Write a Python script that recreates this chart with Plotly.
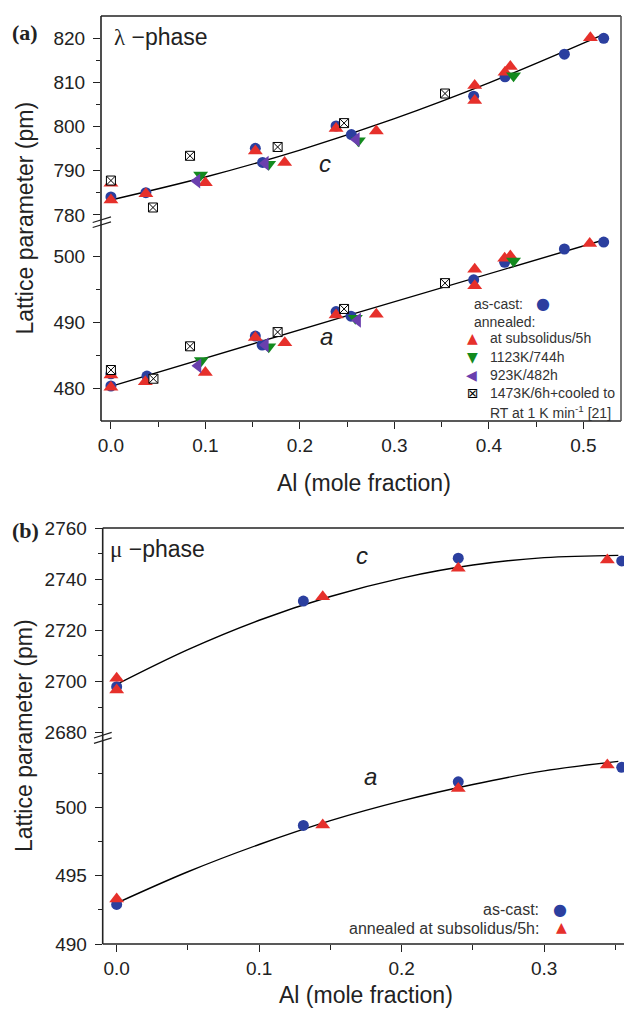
import plotly.graph_objects as go

W, H = 624, 1009
def px(x):
    return x / W
def py(y):
    return 1 - y / H

# ---------------- data: (a) lambda-phase ----------------
# as-cast (circles)
lam_cast_c_x = [0.0, 0.037, 0.1528, 0.1605, 0.2382, 0.2544, 0.3838, 0.417, 0.4798, 0.5214]
lam_cast_c = [784.1, 785.05, 795.1, 791.9, 800.15, 798.2, 806.9, 811.3, 816.4, 820.0]
lam_cast_a_x = [0.0, 0.0, 0.0381, 0.1528, 0.160, 0.2382, 0.254, 0.3838, 0.4166, 0.4798, 0.5214]
lam_cast_a = [482.2, 480.35, 481.86, 487.9, 486.55, 491.6, 490.9, 496.4, 499.05, 501.06, 502.1]
# annealed at subsolidus/5h (red up-triangles)
lam_sub_c_x = [0.0, 0.0, 0.037, 0.0999, 0.1528, 0.1838, 0.2382, 0.2808, 0.3849, 0.3849, 0.417, 0.4226, 0.5073]
lam_sub_c = [783.4, 787.2, 784.8, 787.3, 794.5, 791.9, 799.6, 799.0, 809.3, 805.9, 812.3, 813.6, 820.1]
lam_sub_a_x = [0.0, 0.0, 0.0364, 0.0999, 0.1528, 0.184, 0.2382, 0.2808, 0.3849, 0.3849, 0.4166, 0.4226, 0.5066]
lam_sub_a = [480.15, 482.0, 481.0, 482.4, 487.7, 486.9, 491.1, 491.2, 498.0, 495.5, 499.65, 500.0, 501.9]
# 1123K/744h (green down-triangles)
lam_1123_c_x = [0.0949, 0.1669, 0.2618, 0.426]
lam_1123_c = [789.05, 791.5, 796.8, 811.5]
lam_1123_a_x = [0.0957, 0.167, 0.2586, 0.426]
lam_1123_a = [484.2, 486.3, 490.6, 499.25]
# 923K/482h (purple left-triangles)
lam_923_c_x = [0.091, 0.1634, 0.2597]
lam_923_c = [787.7, 791.7, 797.1]
lam_923_a_x = [0.0921, 0.1634, 0.261]
lam_923_a = [483.4, 486.55, 490.3]
# 1473K/6h + cooled (crossed squares) [21]
lam_lit_c_x = [0.0, 0.0445, 0.0837, 0.1764, 0.2467, 0.3535]
lam_lit_c = [787.8, 781.7, 793.4, 795.4, 800.8, 807.5]
lam_lit_a_x = [0.0, 0.045, 0.0837, 0.1764, 0.2467, 0.3535]
lam_lit_a = [482.77, 481.45, 486.35, 488.5, 492.0, 495.9]
# fitted curves
lam_c_fit_x = [0.0, 0.1, 0.2, 0.3, 0.4, 0.5, 0.52]
lam_c_fit = [783.4, 788.6, 794.7, 801.8, 809.9, 818.9, 820.8]
lam_a_fit_x = [0.0, 0.26, 0.523]
lam_a_fit = [480.3, 491.4, 502.5]

# ---------------- data: (b) mu-phase ----------------
mu_cast_x = [0.0, 0.131, 0.2397, 0.3544]
mu_cast_c = [2698.0, 2731.5, 2748.3, 2747.2]
mu_cast_a = [492.9, 498.7, 501.9, 502.96]
mu_sub_c_x = [0.0, 0.0, 0.1446, 0.2397, 0.3443]
mu_sub_c = [2701.3, 2696.7, 2733.2, 2744.3, 2747.6]
mu_sub_a_x = [0.0, 0.1446, 0.2397, 0.3443]
mu_sub_a = [493.3, 498.73, 501.4, 503.13]
mu_fit_x = [0.0, 0.05, 0.1, 0.15, 0.2, 0.25, 0.3, 0.352]
mu_c_fit = [2698.9, 2712.5, 2724.0, 2733.3, 2740.5, 2745.6, 2748.5, 2749.4]
mu_a_fit = [493.0, 495.3, 497.3, 499.05, 500.5, 501.7, 502.7, 503.4]

x_ticks_a = [0.0, 0.1, 0.2, 0.3, 0.4, 0.5]
x_ticks_b = [0.0, 0.1, 0.2, 0.3]

# ---------------- style ----------------
BLUE = '#2b3f9f'
RED = '#e6302b'
GREEN = '#138a1e'
PURPLE = '#6a3fae'
INK = '#222222'
FONT = 'Liberation Sans, Arial, sans-serif'

fig = go.Figure()

def add_pts(x, y, xa, ya, symbol, color, size, line=None):
    m = dict(symbol=symbol, color=color, size=size)
    if line:
        m['line'] = line
    fig.add_trace(go.Scatter(x=x, y=y, xaxis=xa, yaxis=ya, mode='markers',
                             marker=m, showlegend=False, hoverinfo='x+y'))

def add_fit(x, y, xa, ya):
    fig.add_trace(go.Scatter(x=x, y=y, xaxis=xa, yaxis=ya, mode='lines',
                             line=dict(color='black', width=1.4, shape='spline'),
                             showlegend=False, hoverinfo='skip'))

# panel (a): c on x2/y2, a on x/y
add_fit(lam_c_fit_x, lam_c_fit, 'x2', 'y2')
add_fit(lam_a_fit_x, lam_a_fit, 'x', 'y')
for (xx, yy, xa, ya) in [(lam_cast_c_x, lam_cast_c, 'x2', 'y2'), (lam_cast_a_x, lam_cast_a, 'x', 'y')]:
    add_pts(xx, yy, xa, ya, 'circle', BLUE, 11)
for (xx, yy, xa, ya) in [(lam_sub_c_x, lam_sub_c, 'x2', 'y2'), (lam_sub_a_x, lam_sub_a, 'x', 'y')]:
    add_pts(xx, yy, xa, ya, 'triangle-up', RED, 13)
for (xx, yy, xa, ya) in [(lam_1123_c_x, lam_1123_c, 'x2', 'y2'), (lam_1123_a_x, lam_1123_a, 'x', 'y')]:
    add_pts(xx, yy, xa, ya, 'triangle-down', GREEN, 13)
for (xx, yy, xa, ya) in [(lam_923_c_x, lam_923_c, 'x2', 'y2'), (lam_923_a_x, lam_923_a, 'x', 'y')]:
    add_pts(xx, yy, xa, ya, 'triangle-left', PURPLE, 13)
for (xx, yy, xa, ya) in [(lam_lit_c_x, lam_lit_c, 'x2', 'y2'), (lam_lit_a_x, lam_lit_a, 'x', 'y')]:
    add_pts(xx, yy, xa, ya, 'square-x', 'white', 9, line=dict(color='black', width=1))

# panel (b): c on x4/y4, a on x3/y3
add_fit(mu_fit_x, mu_c_fit, 'x4', 'y4')
add_fit(mu_fit_x, mu_a_fit, 'x3', 'y3')
add_pts(mu_cast_x, mu_cast_c, 'x4', 'y4', 'circle', BLUE, 11)
add_pts(mu_cast_x, mu_cast_a, 'x3', 'y3', 'circle', BLUE, 11)
add_pts(mu_sub_c_x, mu_sub_c, 'x4', 'y4', 'triangle-up', RED, 13)
add_pts(mu_sub_a_x, mu_sub_a, 'x3', 'y3', 'triangle-up', RED, 13)

# ---------------- axes ----------------
tickfont = dict(family=FONT, size=19, color=INK)

def yax(dom, rng, tickvals, minor_vals, anchor):
    return dict(domain=dom, range=rng, anchor=anchor, tickmode='array', tickvals=tickvals,
                ticks='outside', ticklen=7, tickwidth=1.3, tickcolor=INK, tickfont=tickfont,
                showgrid=False, zeroline=False, showline=False, ticklabelstandoff=4,
                automargin=False,
                minor=dict(tickmode='array', tickvals=minor_vals, ticks='outside', ticklen=4,
                           tickwidth=1.3, tickcolor=INK, showgrid=False))

def xax(dom, rng, tickvals, minor_vals, anchor):
    return dict(domain=dom, range=rng, anchor=anchor, tickmode='array', tickvals=tickvals,
                ticktext=['%.1f' % v for v in tickvals], automargin=False,
                ticks='outside', ticklen=7, tickwidth=1.3, tickcolor=INK, tickfont=tickfont,
                showgrid=False, zeroline=False, showline=False,
                minor=dict(tickmode='array', tickvals=minor_vals, ticks='outside', ticklen=5,
                           tickwidth=1.3, tickcolor=INK, showgrid=False))

A_L, A_R, A_T, A_B, A_BRK = 101, 621, 16, 421, 219.5
B_L, B_R, B_T, B_B, B_BRK = 102.7, 624, 528, 944, 735.7

fig.update_layout(
    xaxis=xax([px(A_L), px(A_R)], [-0.0105, 0.5397], x_ticks_a, [0.05, 0.15, 0.25, 0.35, 0.45], 'y'),
    xaxis2=dict(domain=[px(A_L), px(A_R)], matches='x', anchor='y2', visible=False, automargin=False),
    yaxis=yax([py(A_B), py(A_BRK)], [475.06, 505.52], [480, 490, 500], [485, 495], 'x'),
    yaxis2=yax([py(A_BRK), py(A_T)], [778.98, 825.05], [780, 790, 800, 810, 820],
               [785, 795, 805, 815], 'x2'),
    xaxis3=xax([px(B_L), px(B_R)], [-0.0098, 0.356], x_ticks_b, [0.05, 0.15, 0.25, 0.35], 'y3'),
    xaxis4=dict(domain=[px(B_L), px(B_R)], matches='x3', anchor='y4', visible=False, automargin=False),
    yaxis3=yax([py(B_B), py(B_BRK)], [490.0, 505.28], [490, 495, 500],
               [492.5, 497.5, 502.5], 'x3'),
    yaxis4=yax([py(B_BRK), py(B_T)], [2678.8, 2760.1], [2680, 2700, 2720, 2740, 2760],
               [2690, 2710, 2730, 2750], 'x4'),
)

# ---------------- frames and break marks ----------------
shapes = []
LW = 1.6
def seg(x0, y0, x1, y1, w=LW, c=INK):
    shapes.append(dict(type='line', xref='paper', yref='paper', x0=px(x0), y0=py(y0),
                       x1=px(x1), y1=py(y1), line=dict(color=c, width=w)))
# panel a frame
seg(A_L, A_T, A_L, A_B)
seg(A_L, A_B, A_R, A_B)
seg(A_L, A_T, A_R, A_T)
seg(A_R, A_T, A_R, A_B, c='#555555')
# panel b frame
seg(B_L, B_T, B_L, B_B)
seg(B_L, B_B, B_R, B_B)
seg(B_L, B_T, B_R, B_T)
# break marks
seg(92.7, 222.5, 111, 216.8, w=1.3)
seg(92.7, 227.5, 111, 221.8, w=1.3)
seg(94, 738.0, 111.7, 732.3, w=1.3)
seg(94, 743.3, 111.7, 737.8, w=1.3)

# ---------------- text ----------------
ann = []
def text(x, y, t, size, xanchor='center', color=INK, family=FONT, angle=0):
    ann.append(dict(x=px(x), y=py(y), xref='paper', yref='paper', text=t, showarrow=False,
                    xanchor=xanchor, yanchor='middle', textangle=angle,
                    font=dict(family=family, size=size, color=color)))

SERIF = 'Liberation Serif, Times New Roman, serif'
text(24.5, 32, '<b>(a)</b>', 22, family=SERIF)
text(25.5, 530, '<b>(b)</b>', 22, family=SERIF)
text(112, 37, "<span style='font-family:Liberation Serif'>λ</span> −phase", 23, xanchor='left')
text(108, 549, "<span style='font-family:Liberation Serif'>μ</span> −phase", 23, xanchor='left')
text(325, 164, '<i>c</i>', 24)
text(326, 336, '<i>a</i>', 24)
text(362, 555, '<i>c</i>', 24)
text(370, 776, '<i>a</i>', 24)
text(24, 218.5, 'Lattice parameter (pm)', 23, angle=-90)
text(24, 736, 'Lattice parameter (pm)', 23, angle=-90)
text(364, 483, 'Al (mole fraction)', 23)
text(366, 995, 'Al (mole fraction)', 23)

# legend (a)
LG = '#333333'
LS = 14
text(471.7, 304, 'as-cast:', LS, xanchor='left', color=LG)
text(543.3, 303, '●', 16, color=BLUE, family='DejaVu Sans')
text(471.7, 321.7, 'annealed:', LS, xanchor='left', color=LG)
text(472.7, 338, '▲', 14, color=RED, family='DejaVu Sans')
text(488.3, 338.3, 'at subsolidus/5h', LS, xanchor='left', color=LG)
text(472.7, 356.5, '▼', 14, color=GREEN, family='DejaVu Sans')
text(488.3, 356.7, '1123K/744h', LS, xanchor='left', color=LG)
text(471, 375, '◀', 14, color=PURPLE, family='DejaVu Sans')
text(488.3, 375, '923K/482h', LS, xanchor='left', color=LG)
text(472.7, 393.3, '⊠', 14, color='black', family='DejaVu Sans')
text(488.3, 393.3, '1473K/6h+cooled to', LS, xanchor='left', color=LG)
text(488.3, 411.7, 'RT at 1 K min<sup>-1</sup> [21]', LS, xanchor='left', color=LG)
# legend (b)
text(540.7, 909.3, 'as-cast:', 16, xanchor='right', color=LG)
text(560, 909, '●', 16, color=BLUE, family='DejaVu Sans')
text(540.7, 928.3, 'annealed at subsolidus/5h:', 16, xanchor='right', color=LG)
text(561, 926.5, '▲', 14, color=RED, family='DejaVu Sans')

fig.update_layout(
    width=W, height=H, margin=dict(l=0, r=0, t=0, b=0, autoexpand=False),
    paper_bgcolor='white', plot_bgcolor='white',
    shapes=shapes, annotations=ann, showlegend=False,
    font=dict(family=FONT, color=INK),
)

fig.write_html('out.html', config={'displayModeBar': False},
               post_script="document.body.style.margin='0';")
